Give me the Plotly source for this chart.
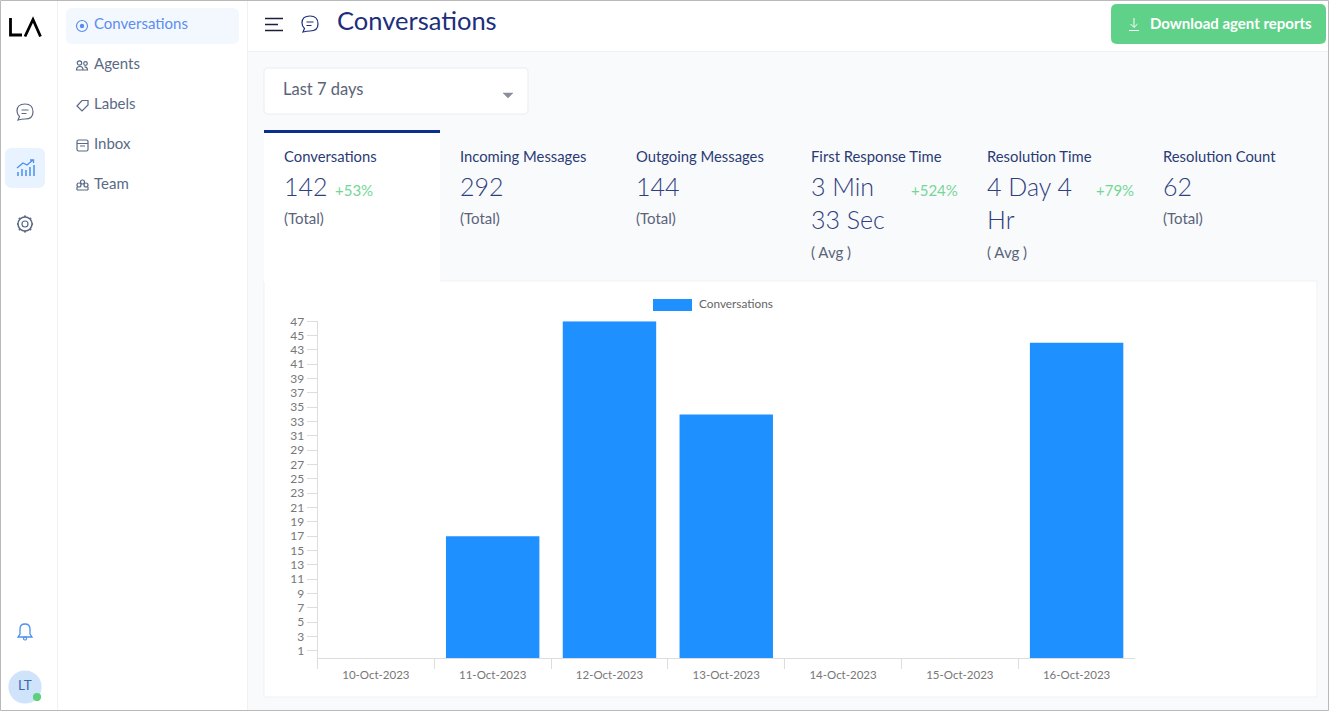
import re
import plotly.graph_objects as go

W, H = 1329, 711
FONT = "Lato"

# chart data
dates = ["10-Oct-2023", "11-Oct-2023", "12-Oct-2023", "13-Oct-2023",
         "14-Oct-2023", "15-Oct-2023", "16-Oct-2023"]
conversations = [0, 17, 47, 34, 0, 0, 44]
y_ticks = list(range(1, 48, 2))

# page text
menu_items = ["Conversations", "Agents", "Labels", "Inbox", "Team"]
stat_titles = ["Conversations", "Incoming Messages", "Outgoing Messages",
               "First Response Time", "Resolution Time", "Resolution Count"]
stat_lines = [["142"], ["292"], ["144"], ["3 Min", "33 Sec"], ["4 Day 4", "Hr"], ["62"]]
stat_notes = ["(Total)", "(Total)", "(Total)", "( Avg )", "( Avg )", "(Total)"]
stat_changes = ["+53%", "", "", "+524%", "+79%", ""]


def px(x):
    return x / W


def py(y):
    return 1 - y / H


shapes = []
annotations = []


def rect(x0, y0, x1, y1, fill, line=None, r=0, width=1):
    # page furniture is placed in screen pixels, turned into paper coords
    if r:
        d = (f"M {x0+r} {y0} L {x1-r} {y0} Q {x1} {y0} {x1} {y0+r} L {x1} {y1-r} Q {x1} {y1} {x1-r} {y1} "
             f"L {x0+r} {y1} Q {x0} {y1} {x0} {y1-r} L {x0} {y0+r} Q {x0} {y0} {x0+r} {y0} Z")
        path(d, color=line, fill=fill, width=width if line else 0)
    else:
        shapes.append(dict(type="rect", xref="paper", yref="paper", x0=px(x0), x1=px(x1), y0=py(y0), y1=py(y1),
                           fillcolor=fill, line=dict(color=line or fill, width=width if line else 0), layer="below"))


def path(d, color="#5a6a85", fill="rgba(0,0,0,0)", width=1.2):
    nums = iter(re.findall(r"[A-Z]|-?[\d.]+", d))
    out = []
    for tok in nums:
        if tok.isalpha():
            out.append(tok)
        else:
            out.append(f"{px(float(tok)):.5f},{py(float(next(nums))):.5f}")
    shapes.append(dict(type="path", xref="paper", yref="paper", path=" ".join(out), fillcolor=fill,
                       line=dict(color=color or fill, width=width), layer="below"))


def circle(cx, cy, r, color="#5a6a85", fill="rgba(0,0,0,0)", width=1.2):
    shapes.append(dict(type="circle", xref="paper", yref="paper", x0=px(cx-r), x1=px(cx+r), y0=py(cy-r), y1=py(cy+r),
                       fillcolor=fill, line=dict(color=color, width=width), layer="below"))


def label(x, y, text, size=14, color="#2a3a75", anchor="left", weight=400):
    # annotations keep a 1px border box round the text
    nudge = {"left": -1, "right": 1, "center": 0}[anchor]
    annotations.append(dict(xref="paper", yref="paper", x=px(x + nudge), y=py(y - 1), text=text, showarrow=False,
                            xanchor=anchor, yanchor="middle", borderpad=0,
                            font=dict(family=FONT, size=size, color=color, weight=weight)))


def chat_icon(cx, cy, color, s=1.0):
    path(f"M {cx-7*s} {cy+8*s} L {cx-5.5*s} {cy+4.5*s} Q {cx-8*s} {cy+2*s} {cx-8*s} {cy-1*s} "
         f"Q {cx-8*s} {cy-8*s} {cx} {cy-8*s} Q {cx+8*s} {cy-8*s} {cx+8*s} {cy} Q {cx+8*s} {cy+7*s} {cx} {cy+7*s} "
         f"Q {cx-3*s} {cy+7*s} {cx-7*s} {cy+8*s} Z", color=color)
    path(f"M {cx-3.5*s} {cy-2*s} L {cx+3.5*s} {cy-2*s} M {cx-3.5*s} {cy+1.5*s} L {cx+1.5*s} {cy+1.5*s}", color=color)


# page background
rect(0, 0, W, H, "#f9fafc")
rect(0, 0, 248, H, "#ffffff")
rect(248, 0, W, 51, "#ffffff")
shapes.append(dict(type="line", xref="paper", yref="paper", x0=px(248), x1=1, y0=py(51.5), y1=py(51.5),
                   line=dict(color="#f0f1f4", width=1), layer="below"))
for xl in (57.5, 247.5):
    shapes.append(dict(type="line", xref="paper", yref="paper", x0=px(xl), x1=px(xl), y0=0, y1=1,
                       line=dict(color="#f0f1f4", width=1), layer="below"))

# logo
path("M 10.5 18 L 10.5 35 L 22 35", color="#000000", width=2.8)
path("M 25 36.5 L 33 19.5 L 40.5 36.5", color="#000000", width=2.8)

# icon rail
chat_icon(25, 112, "#5a6a85")
rect(5, 148, 45, 188, "#e8f3ff", r=7)
path("M 18 176 L 18 172 M 22 176 L 22 169 M 26 176 L 26 170 M 30 176 L 30 167 M 34 176 L 34 165", color="#4a90f0", width=1.5)
path("M 17 168 L 23 163 L 27 165 L 33 160 M 30 160 L 33.5 160 L 33.5 163", color="#4a90f0", width=1.3)
circle(25, 224, 3, color="#5a6a85")
circle(25, 224, 7, color="#5a6a85", width=1.5)
path("M 25 215.5 L 25 217 M 25 231 L 25 232.5 M 17 224 L 18 224 M 32 224 L 33 224 M 19 218 L 20 219 M 30 229 L 31 230 "
     "M 31 218 L 30 219 M 20 229 L 19 230", color="#5a6a85", width=2)
path("M 18 637 L 20 634 L 20 629 Q 20 624 25 624 Q 30 624 30 629 L 30 634 L 32 637 Z", color="#4a90f0", width=1.3)
circle(25, 638.5, 1.5, color="#4a90f0")
circle(25, 687, 16, color="#cfe3fb", fill="#cfe3fb")
label(25, 686, "LT", size=13.5, color="#3b6aa8", anchor="center")
circle(37, 697, 3.5, color="#5dd07e", fill="#5dd07e")

# menu
rect(66, 8, 239, 44, "#f3f8ff", r=6)
menu_y = [24, 64, 104, 144, 184]
for i, (name, y) in enumerate(zip(menu_items, menu_y)):
    label(94, y, name, size=15, color="#5b8def" if i == 0 else "#5a6a85")
circle(82, 26, 5.5, color="#5b8def")
circle(82, 26, 1.6, color="#5b8def", fill="#5b8def")
circle(79.5, 63, 2.2)
circle(85.5, 63.5, 1.8)
path("M 76.5 70 Q 76.5 66.5 80 66.5 Q 83 66.5 83 70 Z M 83.5 70 L 87.5 70 Q 87.5 66.8 84.5 66.8")
path("M 77 106 L 82 100.5 L 88 100.5 L 88 105 L 82 111 Z")
rect(77, 140, 88, 151, "rgba(0,0,0,0)", line="#5a6a85", r=1.5, width=1.2)
path("M 77 143.5 L 88 143.5 M 80 146 L 85 146")
circle(79, 185, 2, )
circle(82.5, 182, 2)
circle(86, 185, 2)
path("M 77 190 L 88 190 M 77 190 L 77 187 M 88 190 L 88 187")

# header
path("M 265 18.5 L 283 18.5 M 265 24.5 L 278 24.5 M 265 30.5 L 283 30.5", color="#1a1f3c", width=1.6)
chat_icon(310, 24, "#1c2f7c")
label(337, 21, "Conversations", size=25.5, color="#1c2f7c")
rect(1111, 4, 1326, 44, "#60d188", r=6)
path("M 1134 18 L 1134 27 M 1130.5 24 L 1134 27.5 L 1137.5 24 M 1129 30.5 L 1139 30.5", color="#ffffff", width=1)
label(1150, 24, "Download agent reports", size=15, color="#ffffff", weight=700)

# period select
rect(264, 68, 528, 114, "#ffffff", line="#e9ecf1", r=4)
label(283, 90, "Last 7 days", size=16.5, color="#5a6478")
path("M 503 93 L 513 93 L 508 98 Z", color="#8a8f99", fill="#8a8f99", width=0.5)

# stat tabs
rect(264, 281, 1317, 697, "#ffffff", line="#f0f1f4")
rect(264, 130, 440, 282, "#ffffff")
rect(264, 130, 440, 133, "#0b2f8f")
stat_x = [284, 460, 636, 811, 987, 1163]
change_x = [335, None, None, 958, 1134, None]
for i in range(6):
    label(stat_x[i], 157, stat_titles[i], size=14.8, color="#2a3a75")
    for line_y, txt in zip((187, 220), stat_lines[i]):
        label(stat_x[i], line_y, txt, size=25, color="#2f3e7e", weight=300)
    note_y = 253 if len(stat_lines[i]) > 1 else 219
    label(stat_x[i], note_y, stat_notes[i], size=15, color="#5a6478")
    if stat_changes[i]:
        anchor = "left" if i == 0 else "right"
        label(change_x[i], 191, stat_changes[i], size=15, color="#74d796", anchor=anchor)

# legend of the chart
rect(653, 299, 692, 311, "#1e90ff")
label(699, 304, "Conversations", size=11.8, color="#666666")

# thin frame of the screenshot
rect(0.5, 0.5, W - 0.5, H - 0.5, "rgba(0,0,0,0)", line="#b9b9b9")

fig = go.Figure()
fig.add_trace(go.Bar(x=dates, y=conversations, name="Conversations", marker=dict(color="#1e90ff", line=dict(width=0))))

fig.update_layout(
    width=W, height=H,
    margin=dict(l=0, r=0, t=0, b=0, autoexpand=False),
    paper_bgcolor="#ffffff", plot_bgcolor="rgba(0,0,0,0)",
    showlegend=False, bargap=0.2,
    font=dict(family=FONT, color="#666666", size=12),
    shapes=shapes, annotations=annotations,
    xaxis=dict(domain=[px(317.5), px(1135)], type="category", range=[-0.5, 6.5], tickson="boundaries",
               ticks="outside", ticklen=10, tickcolor="#dddddd", showline=True, linecolor="#dddddd",
               showgrid=False, zeroline=False, ticklabelstandoff=6, tickfont=dict(size=11.5, color="#777777")),
    yaxis=dict(domain=[py(657.9), py(321.3)], range=[0, 47], tickmode="array", tickvals=y_ticks,
               ticks="outside", ticklen=10, tickcolor="#dddddd", showline=True, linecolor="#dddddd",
               showgrid=False, zeroline=False, tickfont=dict(size=12, color="#777777")),
)

fig.write_html("out.html", config=dict(displayModeBar=False, responsive=False),
               post_script="document.body.style.margin='0';document.documentElement.style.overflow='hidden';")
